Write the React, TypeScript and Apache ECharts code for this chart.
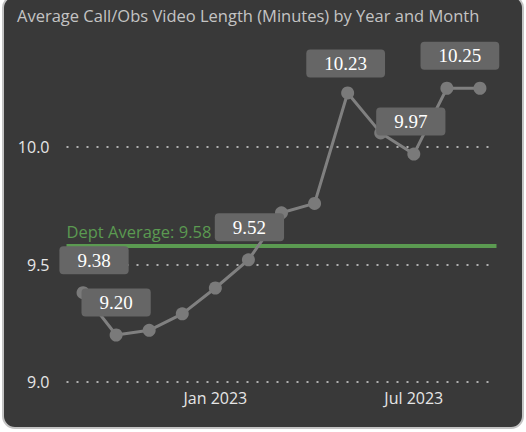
import React, { useEffect, useRef } from "react";
import * as echarts from "echarts";

const months = [
  "Sep 2022", "Oct 2022", "Nov 2022", "Dec 2022", "Jan 2023", "Feb 2023", "Mar 2023",
  "Apr 2023", "May 2023", "Jun 2023", "Jul 2023", "Aug 2023", "Sep 2023",
];
const avgLength = [9.38, 9.2, 9.22, 9.29, 9.4, 9.52, 9.72, 9.76, 10.23, 10.06, 9.97, 10.25, 10.25];
const labeledIdx = [0, 1, 5, 8, 10, 11];
const deptAverage = 9.58;
const yTicks = [9.0, 9.5, 10.0];

const labelOffsets: Record<number, [number, number]> = {
  0: [11, 0],
  1: [0, 0],
  5: [1, 0],
  8: [-2, 3],
  10: [-3, 0],
  11: [13, 0],
};

export default function App() {
  const ref = useRef<HTMLDivElement>(null);
  useEffect(() => {
    if (!ref.current) return;
    const chart = echarts.init(ref.current, null, { renderer: "svg" });
    const data = avgLength.map((v, i) => {
      const show = labeledIdx.includes(i);
      return {
        value: v,
        label: show
          ? {
              show: true,
              position: "top",
              distance: 12,
              offset: labelOffsets[i] || [0, 0],
              formatter: () => v.toFixed(2),
              color: "#ffffff",
              fontFamily: "Liberation Serif",
              fontSize: 19,
              lineHeight: 20,
              backgroundColor: "#666666",
              borderRadius: 4,
              padding: [4, 18, 4, 18],
            }
          : { show: false },
      };
    });
    chart.setOption({
      animation: false,
      backgroundColor: "#ffffff",
      graphic: [
        {
          type: "rect",
          z: -10,
          shape: { x: 3, y: -4, width: 520, height: 432, r: 12 },
          style: { fill: "#393939", stroke: "#c4c4c4", lineWidth: 2 },
          silent: true,
        },
        {
          type: "text",
          left: 17,
          top: 7,
          style: {
            text: "Average Call/Obs Video Length (Minutes) by Year and Month",
            fill: "#c4c4c4",
            font: "16.5px 'Open Sans'",
          },
        },
      ],
      grid: { left: 66.5, right: 29.5, top: 29.5, bottom: 50 },
      xAxis: {
        type: "category",
        data: months,
        boundaryGap: true,
        axisLine: { show: false },
        axisTick: { show: false },
        axisLabel: {
          interval: (i: number) => i % 6 === 4,
          color: "#e6e6e6",
          fontFamily: "Open Sans",
          fontSize: 16,
          margin: 8,
        },
      },
      yAxis: {
        type: "value",
        min: 9.0,
        max: 10.5,
        interval: 0.5,
        axisLine: { show: false },
        axisTick: { show: false },
        axisLabel: {
          showMaxLabel: false,
          color: "#e6e6e6",
          fontFamily: "Open Sans",
          fontSize: 16,
          margin: 17,
          formatter: (v: number) => (yTicks.some((t) => Math.abs(t - v) < 1e-6) ? v.toFixed(1) : ""),
        },
        splitLine: {
          show: true,
          showMaxLine: false,
          lineStyle: { color: "#b0b0b0", width: 2, type: [2, 8] },
        },
      },
      series: [
        {
          type: "line",
          data,
          symbol: "circle",
          symbolSize: 13,
          lineStyle: { color: "#808080", width: 3 },
          itemStyle: { color: "#7a7a7a" },
          z: 3,
          markLine: {
            silent: true,
            symbol: "none",
            z: 2,
            lineStyle: { color: "#5b9a51", width: 4, type: "solid" },
            label: {
              show: true,
              position: "insideStartTop",
              formatter: "Dept Average: " + deptAverage.toFixed(2),
              color: "#5b9a51",
              fontFamily: "Open Sans",
              fontSize: 16.5,
              distance: [0, 6],
            },
            data: [{ yAxis: deptAverage }],
          },
        },
      ],
    });
    return () => chart.dispose();
  }, []);
  return (
    <div style={{ position: "fixed", left: 0, top: 0, width: 526, height: 432 }}>
      <div ref={ref} style={{ width: 526, height: 432 }} />
    </div>
  );
}
